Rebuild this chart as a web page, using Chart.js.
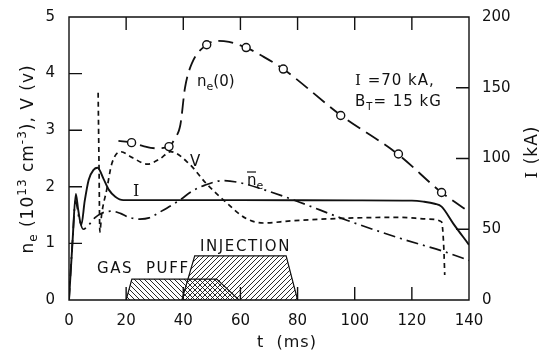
<!DOCTYPE html>
<html>
<head>
<meta charset="utf-8">
<title>ne, V, I vs t</title>
<script src="https://cdn.jsdelivr.net/npm/chart.js@4.4.0/dist/chart.umd.min.js"></script>
<style>
  body { margin: 0; background: #fff; }
  canvas { display: block; }
</style>
</head>
<body>
<canvas id="myChart" width="539" height="354"></canvas>
<script>
// ne(0) curve (10^13 cm^-3) and measured points (circles)
var neT = [17.3, 22, 26, 30.5, 35, 37, 39, 40.6, 43, 48.2, 52, 56, 62, 68, 75, 95, 115, 130.4, 140];
var neV = [2.81, 2.78, 2.72, 2.68, 2.71, 2.85, 3.1, 3.75, 4.18, 4.51, 4.58, 4.56, 4.46, 4.3, 4.08, 3.27, 2.58, 1.9, 1.56];
var neMeasT = [21.9, 35, 48.2, 62, 75, 95.1, 115.3, 130.4];
var neMeasV = [2.78, 2.71, 4.51, 4.46, 4.08, 3.26, 2.58, 1.9];

// loop voltage V (volts, left axis)
var vT = [10.2, 10.5, 10.8, 11.4, 13.2, 15, 18, 22, 27.5, 32, 35.5, 42, 48, 54, 62, 68, 78, 100, 116, 126, 130.4, 131.2, 131.5];
var vV = [3.66, 2.4, 1.2, 1.5, 1.95, 2.41, 2.62, 2.52, 2.4, 2.5, 2.62, 2.41, 2.06, 1.77, 1.44, 1.36, 1.40, 1.45, 1.46, 1.43, 1.38, 0.9, 0.44];

// plasma current I (kA, right axis)
var iT = [0, 1.2, 2.4, 3.2, 4.3, 5.5, 6.9, 8.6, 10, 12, 13.9, 16.2, 19, 60, 100, 120, 124, 128, 130.4, 134.5, 140];
var iV = [0, 40, 75, 64, 53, 70, 85, 92, 93.5, 86, 78, 73, 70.6, 70.6, 70.4, 70.2, 69.5, 68, 66, 54, 39];

// line-averaged density nbar_e
var nbT = [0, 1.3, 2.3, 3.5, 5, 7, 9, 11.3, 15, 18, 21, 24.8, 28, 32, 38.9, 43, 47.6, 54, 60, 66.9, 78.5, 97.2, 115.9, 131.6, 140];
var nbV = [0, 1.1, 1.75, 1.45, 1.25, 1.33, 1.45, 1.53, 1.57, 1.53, 1.46, 1.43, 1.45, 1.56, 1.77, 1.92, 2.03, 2.11, 2.07, 1.97, 1.77, 1.41, 1.09, 0.85, 0.7];

// timing of gas puff and injection (trapezoids)
var gasT = [20, 22, 51.7, 59.5];
var gasV = [0, 0.37, 0.37, 0];
var injT = [39.5, 44, 76, 80];
var injV = [0, 0.78, 0.78, 0];

var xTicks = [0, 20, 40, 60, 80, 100, 120, 140];
var yTicks = [0, 1, 2, 3, 4, 5];
var y2Ticks = [0, 50, 100, 150, 200];

var ink = '#111';

function pts(xs, ys) {
  var out = [];
  for (var i = 0; i < xs.length; i++) out.push({x: xs[i], y: ys[i]});
  return out;
}

// hatch pattern, dir 1 = "/" , -1 = "\"
function hatch(dir) {
  var s = 5;
  var c = document.createElement('canvas');
  c.width = s; c.height = s;
  var g = c.getContext('2d');
  g.strokeStyle = ink;
  g.lineWidth = 0.9;
  g.beginPath();
  if (dir > 0) {
    g.moveTo(0, s); g.lineTo(s, 0);
    g.moveTo(-1, 1); g.lineTo(1, -1);
    g.moveTo(s - 1, s + 1); g.lineTo(s + 1, s - 1);
  } else {
    g.moveTo(0, 0); g.lineTo(s, s);
    g.moveTo(s - 1, -1); g.lineTo(s + 1, 1);
    g.moveTo(-1, s - 1); g.lineTo(1, s + 1);
  }
  g.stroke();
  return g.createPattern(c, 'repeat');
}

// text with sub/superscripts: parts = [text, size, dy, family]
function rich(ctx, parts, x, y, align) {
  var w = 0, i;
  for (i = 0; i < parts.length; i++) {
    ctx.font = parts[i][1] + 'px ' + (parts[i][3] || '"DejaVu Sans"');
    w += ctx.measureText(parts[i][0]).width;
  }
  var cx = align === 'center' ? x - w / 2 : x;
  ctx.textAlign = 'left';
  ctx.textBaseline = 'alphabetic';
  for (i = 0; i < parts.length; i++) {
    ctx.font = parts[i][1] + 'px ' + (parts[i][3] || '"DejaVu Sans"');
    ctx.fillText(parts[i][0], cx, y + parts[i][2]);
    cx += ctx.measureText(parts[i][0]).width;
  }
}

var serif = '"DejaVu Serif"';

// plot frame and inward ticks
var frame = {
  id: 'frame',
  afterDatasetsDraw: function (chart) {
    var ctx = chart.ctx, a = chart.chartArea;
    var sx = chart.scales.x, sy = chart.scales.y, sy2 = chart.scales.y2;
    ctx.save();
    ctx.setLineDash([]);
    ctx.lineDashOffset = 0;
    ctx.globalAlpha = 1;
    ctx.globalCompositeOperation = 'source-over';
    ctx.strokeStyle = ink;
    ctx.lineWidth = 1.4;
    var L = 13;
    ctx.beginPath();
    ctx.rect(a.left, a.top, a.right - a.left, a.bottom - a.top);
    xTicks.slice(1, -1).forEach(function (v) {
      var px = sx.getPixelForValue(v);
      ctx.moveTo(px, a.top); ctx.lineTo(px, a.top + L);
      ctx.moveTo(px, a.bottom); ctx.lineTo(px, a.bottom - L);
    });
    yTicks.slice(1, -1).forEach(function (v) {
      var py = sy.getPixelForValue(v);
      ctx.moveTo(a.left, py); ctx.lineTo(a.left + L, py);
    });
    y2Ticks.slice(1, -1).forEach(function (v) {
      var py = sy2.getPixelForValue(v);
      ctx.moveTo(a.right, py); ctx.lineTo(a.right - L, py);
    });
    ctx.stroke();
    ctx.restore();
  }
};

var labels = {
  id: 'labels',
  afterDraw: function (chart) {
    var ctx = chart.ctx;
    ctx.save();
    ctx.fillStyle = ink;
    ctx.strokeStyle = ink;
    ctx.setLineDash([]);

    // axis titles
    ctx.save();
    ctx.translate(33, 159);
    ctx.rotate(-Math.PI / 2);
    ctx.letterSpacing = '1px';
    rich(ctx, [['n', 17, 0], ['e', 12, 4], [' (10', 17, 0], ['13', 12, -7], [' cm', 17, 0], ['-3', 12, -7], ['), V (v)', 17, 0]], 0, 0, 'center');
    ctx.restore();
    ctx.save();
    ctx.translate(537, 152);
    ctx.rotate(-Math.PI / 2);
    ctx.letterSpacing = '1px';
    rich(ctx, [['I', 17, 0, serif], [' (kA)', 17, 0]], 0, 0, 'center');
    ctx.restore();
    ctx.save();
    ctx.letterSpacing = '1px';
    rich(ctx, [['t  (ms)', 16, 0]], 287, 347, 'center');
    ctx.restore();

    // curve labels
    rich(ctx, [['n', 15, 0], ['e', 11, 4], ['(0)', 15, 0]], 197, 86);
    rich(ctx, [['V', 15, 0]], 190, 166);
    rich(ctx, [['I', 16, 0, serif]], 133, 196);
    rich(ctx, [['n', 15, 0], ['e', 11, 4]], 247, 185);
    ctx.lineWidth = 1.2;
    ctx.beginPath(); ctx.moveTo(247, 172); ctx.lineTo(256, 172); ctx.stroke();
    ctx.save();
    ctx.letterSpacing = '1px';
    rich(ctx, [['I', 15, 0, serif], [' =70 kA,', 15, 0]], 355, 85);
    rich(ctx, [['B', 15, 0], ['T', 10, 4], ['= 15 kG', 15, 0]], 355, 106);
    ctx.restore();
    ctx.save();
    ctx.letterSpacing = '1.6px';
    rich(ctx, [['GAS  PUFF', 15, 0]], 97, 273);
    rich(ctx, [['INJECTION', 15, 0]], 200, 251);
    ctx.restore();
    ctx.restore();
  }
};

var line = {pointRadius: 0, borderColor: ink, backgroundColor: ink, fill: false, cubicInterpolationMode: 'monotone', order: 2};

new Chart('myChart', {
  type: 'line',
  data: {
    datasets: [
      Object.assign({}, line, {label: 'ne(0) points', data: pts(neMeasT, neMeasV), yAxisID: 'y', showLine: false,
        pointRadius: 4, pointBackgroundColor: '#fff', pointBorderColor: ink, pointBorderWidth: 1.4, order: 0}),
      Object.assign({}, line, {label: 'ne(0)', data: pts(neT, neV), yAxisID: 'y', borderWidth: 1.8, borderDash: [15, 7]}),
      Object.assign({}, line, {label: 'V', data: pts(vT, vV), yAxisID: 'y', borderWidth: 1.7, borderDash: [5, 4]}),
      Object.assign({}, line, {label: 'I', data: pts(iT, iV), yAxisID: 'y2', borderWidth: 1.9}),
      Object.assign({}, line, {label: 'nbar', data: pts(nbT, nbV), yAxisID: 'y', borderWidth: 1.7, borderDash: [12, 5, 2, 5]}),
      Object.assign({}, line, {label: 'gas puff', data: pts(gasT, gasV), yAxisID: 'y', borderWidth: 1.2,
        cubicInterpolationMode: 'default', tension: 0, fill: 'origin', backgroundColor: hatch(-1), order: 3}),
      Object.assign({}, line, {label: 'injection', data: pts(injT, injV), yAxisID: 'y', borderWidth: 1.2,
        cubicInterpolationMode: 'default', tension: 0, fill: 'origin', backgroundColor: hatch(1), order: 3})
    ]
  },
  options: {
    responsive: false,
    animation: false,
    layout: {padding: {top: 17, left: 0, right: 0, bottom: 0}},
    plugins: {legend: {display: false}, tooltip: {enabled: false}},
    scales: {
      x: {
        type: 'linear', min: 0, max: 140,
        afterBuildTicks: function (s) { s.ticks = xTicks.map(function (v) { return {value: v}; }); },
        afterFit: function (s) { s.height = 54; },
        grid: {display: false}, border: {display: false},
        ticks: {color: ink, font: {family: '"DejaVu Sans"', size: 15}, padding: 4, maxRotation: 0}
      },
      y: {
        position: 'left', min: 0, max: 5,
        afterBuildTicks: function (s) { s.ticks = yTicks.map(function (v) { return {value: v}; }); },
        afterFit: function (s) { s.width = 69; },
        grid: {display: false}, border: {display: false},
        ticks: {color: ink, font: {family: '"DejaVu Sans"', size: 15}, padding: 6}
      },
      y2: {
        position: 'right', min: 0, max: 200,
        afterBuildTicks: function (s) { s.ticks = y2Ticks.map(function (v) { return {value: v}; }); },
        afterFit: function (s) { s.width = 70; },
        grid: {display: false}, border: {display: false},
        ticks: {color: ink, font: {family: '"DejaVu Sans"', size: 15}, padding: 5}
      }
    }
  },
  plugins: [frame, labels]
});
</script>
</body>
</html>
